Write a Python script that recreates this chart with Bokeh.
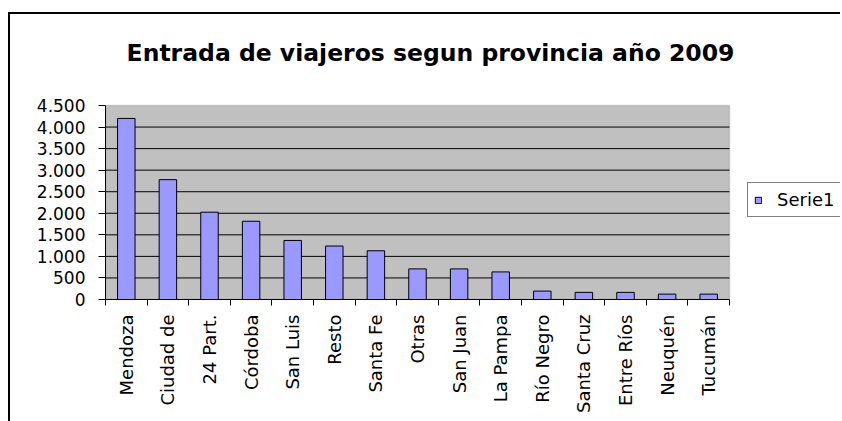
import math
from bokeh.plotting import figure
from bokeh.models import (ColumnDataSource, FixedTicker, Legend, LegendItem, Range1d,
                          Label, BoxAnnotation)
from bokeh.embed import file_html
from bokeh.resources import INLINE

title_text = "Entrada de viajeros segun provincia año 2009"
provinces = ["Mendoza", "Ciudad de", "24 Part.", "Córdoba", "San Luis", "Resto",
             "Santa Fe", "Otras", "San Juan", "La Pampa", "Río Negro",
             "Santa Cruz", "Entre Ríos", "Neuquén", "Tucumán"]
serie1 = [4200, 2780, 2025, 1815, 1370, 1240, 1130, 710, 710, 640, 195, 165, 165, 125, 125]
series_name = "Serie1"
y_ticks = [0, 500, 1000, 1500, 2000, 2500, 3000, 3500, 4000, 4500]
y_tick_labels = ["0", "500", "1.000", "1.500", "2.000", "2.500", "3.000", "3.500", "4.000", "4.500"]

n = len(provinces)
positions = list(range(n))
boundaries = [i - 0.5 for i in range(n + 1)]
x_lo, x_hi = -0.5, n - 0.5
y_lo, y_hi = y_ticks[0], y_ticks[-1]
source = ColumnDataSource(dict(x=positions, value=serie1, name=provinces))
grid_src = ColumnDataSource(dict(y=y_ticks[1:-1], x0=[x_lo] * (len(y_ticks) - 2),
                                 x1=[x_hi] * (len(y_ticks) - 2)))

FONT = "DejaVu Sans"
# layout (pixels)
PLOT_W, PLOT_H = 624, 194           # grey plot area
FW, FH = 735, 285                   # whole drawing frame (plot area + room for title/legend)
x_end = x_lo + (x_hi - x_lo) * FW / PLOT_W
y_end = y_lo + (y_hi - y_lo) * FH / PLOT_H

p = figure(frame_width=FW, frame_height=FH, output_backend="svg", toolbar_location=None,
           x_range=Range1d(x_lo, x_end), y_range=Range1d(y_lo, y_end),
           min_border_left=95, min_border_right=0, min_border_top=0, min_border_bottom=122)

p.background_fill_color = "white"
p.border_fill_color = "white"
p.outline_line_color = None
p.styles = {"border-left": "2px solid black", "border-top": "2px solid black",
            "margin-left": "8px", "margin-top": "12px"}

# grey plot area
area = BoxAnnotation(left=x_lo, right=x_hi, bottom=y_lo, top=y_hi,
                     fill_color="#C0C0C0", fill_alpha=1,
                     line_color="#808080", line_width=1.5, level="underlay")
p.add_layout(area)

# horizontal gridlines
p.xgrid.visible = False
p.ygrid.visible = False
p.segment(x0="x0", x1="x1", y0="y", y1="y", source=grid_src,
          line_color="black", line_width=1)

# title
title = Label(x=PLOT_W / 2 + 13, y=PLOT_H + 53, x_units="screen", y_units="screen",
              text=title_text, text_font=FONT, text_font_style="bold",
              text_font_size="23.5px", text_color="black",
              text_align="center", text_baseline="alphabetic")
p.add_layout(title)

# y axis
ya = p.yaxis[0]
ya.bounds = (y_lo, y_hi)
ya.ticker = FixedTicker(ticks=y_ticks)
ya.major_label_overrides = dict(zip(y_ticks, y_tick_labels))
ya.axis_line_color = "black"
ya.axis_line_width = 1
ya.major_tick_in = 0
ya.major_tick_out = 7
ya.major_tick_line_color = "black"
ya.minor_tick_line_color = None
ya.major_label_standoff = 13
ya.major_label_text_font = FONT
ya.major_label_text_font_size = "17px"
ya.major_label_text_color = "black"

# x axis
xa = p.xaxis[0]
xa.bounds = (x_lo, x_hi)
xa.ticker = FixedTicker(ticks=positions, minor_ticks=boundaries)
xa.major_label_overrides = dict(zip(positions, provinces))
xa.axis_line_color = "black"
xa.axis_line_width = 1
xa.major_tick_in = 0
xa.major_tick_out = 0
xa.major_tick_line_color = None
xa.minor_tick_in = 0
xa.minor_tick_out = 6
xa.minor_tick_line_color = "black"
xa.major_label_orientation = math.pi / 2
xa.major_label_standoff = 9
xa.major_label_text_font = FONT
xa.major_label_text_font_size = "18px"
xa.major_label_text_color = "black"

bars = p.vbar(x="x", top="value", bottom=0, width=0.42, source=source,
              fill_color="#9999FF", line_color="black", line_width=1)

legend = Legend(items=[LegendItem(label=series_name, renderers=[bars])],
                location=(PLOT_W + 18, 82), margin=0, padding=6, spacing=0,
                glyph_width=8, glyph_height=8, label_standoff=15,
                label_text_font=FONT, label_text_font_size="18px",
                label_text_color="black",
                border_line_color="black", border_line_width=1,
                background_fill_color="white", background_fill_alpha=1)
p.add_layout(legend)

open("out.html", "w").write(file_html(p, INLINE))
